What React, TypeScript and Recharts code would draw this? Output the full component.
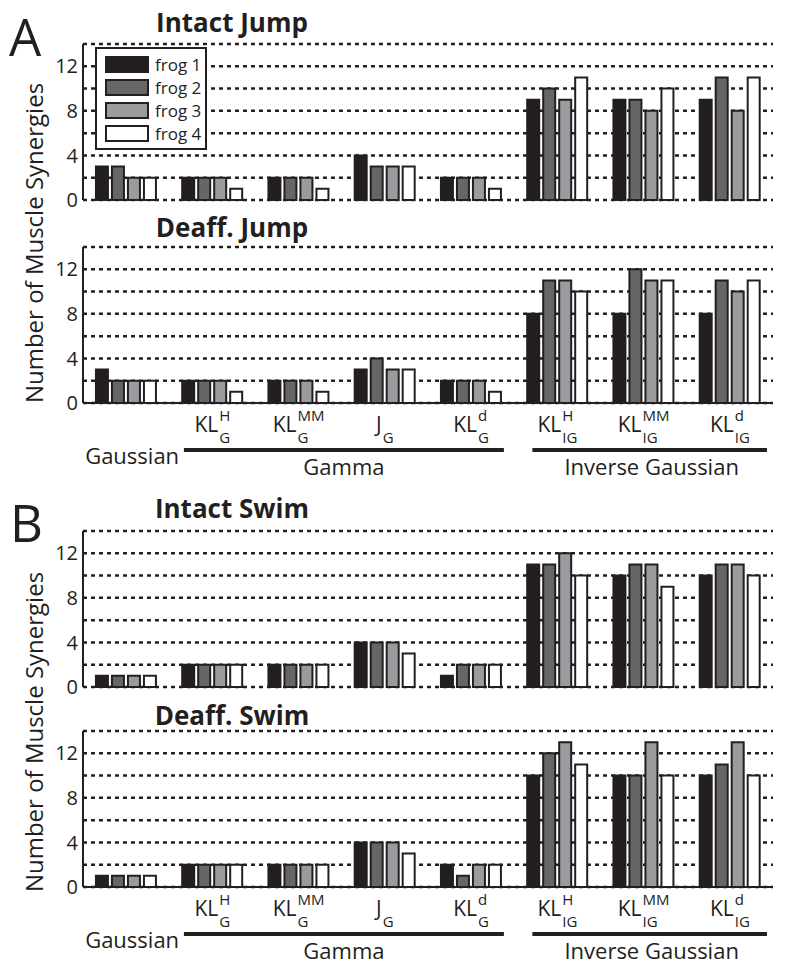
import React from 'react';
import { BarChart, Bar, XAxis, YAxis, CartesianGrid, Legend } from 'recharts';

const categories = ['Gaussian', 'KLH_G', 'KLMM_G', 'J_G', 'KLd_G', 'KLH_IG', 'KLMM_IG', 'KLd_IG'];
const labelMain = ['', 'KL', 'KL', 'J', 'KL', 'KL', 'KL', 'KL'];
const labelSup = ['', 'H', 'MM', '', 'd', 'H', 'MM', 'd'];
const labelSub = ['', 'G', 'G', 'G', 'G', 'IG', 'IG', 'IG'];
const groupNames = ['Gaussian', 'Gamma', 'Inverse Gaussian'];

const frogNames = ['frog 1', 'frog 2', 'frog 3', 'frog 4'];
const frogColors = ['#231f20', '#666666', '#9a9b9e', '#ffffff'];

const yTicks = [0, 2, 4, 6, 8, 10, 12, 14];

// rows = frog 1..4, columns = categories
const intactJump = [
  [3, 2, 2, 4, 2, 9, 9, 9],
  [3, 2, 2, 3, 2, 10, 9, 11],
  [2, 2, 2, 3, 2, 9, 8, 8],
  [2, 1, 1, 3, 1, 11, 10, 11],
];
const deaffJump = [
  [3, 2, 2, 3, 2, 8, 8, 8],
  [2, 2, 2, 4, 2, 11, 12, 11],
  [2, 2, 2, 3, 2, 11, 11, 10],
  [2, 1, 1, 3, 1, 10, 11, 11],
];
const intactSwim = [
  [1, 2, 2, 4, 1, 11, 10, 10],
  [1, 2, 2, 4, 2, 11, 11, 11],
  [1, 2, 2, 4, 2, 12, 11, 11],
  [1, 2, 2, 3, 2, 10, 9, 10],
];
const deaffSwim = [
  [1, 2, 2, 4, 2, 10, 10, 10],
  [1, 2, 2, 4, 1, 12, 10, 11],
  [1, 2, 2, 4, 2, 13, 13, 13],
  [1, 2, 2, 3, 2, 11, 10, 10],
];

const INK = '#231f20';
const FONT = '"Open Sans", sans-serif';
const W = 787;
const Y_AXIS_W = 83;
const RIGHT_M = 14;
const BW = (W - Y_AXIS_W - RIGHT_M) / categories.length;

const toRows = (m: number[][]) =>
  categories.map((c, i) => ({ cat: c, f1: m[0][i], f2: m[1][i], f3: m[2][i], f4: m[3][i] }));

let ctx: CanvasRenderingContext2D | null = null;
function tw(s: string, size: number) {
  if (!s) return 0;
  if (!ctx) ctx = document.createElement('canvas').getContext('2d');
  if (!ctx) return s.length * size * 0.6;
  ctx.font = `${size}px "Open Sans"`;
  return ctx.measureText(s).width;
}

function CategoryTick(props: any) {
  const { x, y, payload } = props;
  const i = categories.indexOf(payload.value);
  const els: any[] = [];
  const MAIN = 21, SCR = 15;
  if (i === 0) {
    els.push(
      <text key="g" x={x + 6} y={y + 61} textAnchor="middle" fontSize={22} fill={INK} fontFamily={FONT}>
        {groupNames[0]}
      </text>
    );
  } else {
    const mw = tw(labelMain[i], MAIN);
    const sw = Math.max(tw(labelSup[i], SCR), tw(labelSub[i], SCR));
    const total = mw + 1 + sw;
    const sx = x - total / 2;
    const scx = sx + mw + 1;
    els.push(
      <text key="m" fill={INK} fontFamily={FONT} fontSize={MAIN}>
        <tspan x={sx} y={y + 29}>{labelMain[i]}</tspan>
        {labelSup[i] ? (
          <tspan x={scx} y={y + 18} style={{ fontSize: SCR }}>{labelSup[i]}</tspan>
        ) : null}
        <tspan x={scx} y={y + 40} style={{ fontSize: SCR }}>{labelSub[i]}</tspan>
      </text>
    );
  }
  if (i === 1) {
    const x1 = x - 0.33 * BW;
    const x2 = x + 3 * BW + 0.38 * BW;
    els.push(<line key="l" x1={x1} x2={x2} y1={y + 47} y2={y + 47} stroke={INK} strokeWidth={4} />);
    els.push(
      <text key="n" x={(x1 + x2) / 2} y={y + 72} textAnchor="middle" fontSize={22} fill={INK} fontFamily={FONT}>
        {groupNames[1]}
      </text>
    );
  }
  if (i === 5) {
    const x1 = x - 0.29 * BW;
    const x2 = x + 2 * BW + 0.43 * BW;
    els.push(<line key="l" x1={x1} x2={x2} y1={y + 47} y2={y + 47} stroke={INK} strokeWidth={4} />);
    els.push(
      <text key="n" x={(x1 + x2) / 2 + 2} y={y + 72} textAnchor="middle" fontSize={22} fill={INK} fontFamily={FONT}>
        {groupNames[2]}
      </text>
    );
  }
  return <g>{els}</g>;
}

function LegendBox(props: any) {
  const payload = props.payload || [];
  return (
    <div
      style={{
        border: `2px solid ${INK}`,
        background: '#fff',
        width: 108,
        height: 95,
        boxSizing: 'content-box',
        paddingTop: 4,
        fontFamily: FONT,
      }}
    >
      {payload.map((p: any, k: number) => (
        <div key={k} style={{ display: 'flex', alignItems: 'center', height: 23, marginLeft: 8 }}>
          <div
            style={{
              width: 40,
              height: 13,
              background: p.color,
              border: `2px solid ${INK}`,
            }}
          />
          <span style={{ marginLeft: 6, fontSize: 17, color: INK, lineHeight: '18px' }}>{p.value}</span>
        </div>
      ))}
    </div>
  );
}

function Panel(props: {
  m: number[][];
  top: number;
  height: number;
  marginTop: number;
  marginBottom: number;
  xHeight: number;
  labels: boolean;
  legend: boolean;
}) {
  const { m, top, height, marginTop, marginBottom, xHeight, labels, legend } = props;
  const data = toRows(m);
  return (
    <div style={{ position: 'absolute', left: 0, top, width: W, height }}>
      <BarChart
        width={W}
        height={height}
        data={data}
        margin={{ top: marginTop, right: RIGHT_M, left: 0, bottom: marginBottom }}
        barCategoryGap="15%"
        barGap={4}
      >
        <CartesianGrid vertical={false} stroke={INK} strokeDasharray="4 4" strokeWidth={2.5} />
        <XAxis
          dataKey="cat"
          interval={0}
          tickLine={false}
          tickSize={0}
          tickMargin={0}
          height={xHeight}
          axisLine={{ stroke: INK, strokeWidth: 2 }}
          tick={labels ? <CategoryTick /> : false}
        />
        <YAxis
          type="number"
          domain={[0, 14]}
          ticks={yTicks}
          interval={0}
          width={Y_AXIS_W}
          tickLine={false}
          tickSize={0}
          tickMargin={5}
          axisLine={{ stroke: INK, strokeWidth: 2 }}
          tick={{ fontSize: 20, fill: INK, fontFamily: FONT }}
          tickFormatter={(v: number) => (v % 4 === 0 && v < 14 ? String(v) : '')}
        />
        {legend && (
          <Legend
            layout="vertical"
            align="center"
            verticalAlign="middle"
            content={<LegendBox />}
            wrapperStyle={{ position: 'absolute', left: 95, top: 47, width: 112 }}
          />
        )}
        {['f1', 'f2', 'f3', 'f4'].map((k, j) => (
          <Bar
            key={k}
            dataKey={k}
            name={frogNames[j]}
            fill={frogColors[j]}
            stroke={INK}
            strokeWidth={2}
            isAnimationActive={false}
          />
        ))}
      </BarChart>
    </div>
  );
}

const titles = [
  { t: 'Intact Jump', y: 32 },
  { t: 'Deaff. Jump', y: 237 },
  { t: 'Intact Swim', y: 518 },
  { t: 'Deaff. Swim', y: 725 },
];

export default function App() {
  return (
    <div
      style={{
        position: 'absolute',
        left: 0,
        top: 0,
        width: W,
        height: 975,
        background: '#fff',
        fontFamily: FONT,
        overflow: 'hidden',
      }}
    >
      <Panel m={intactJump} top={0} height={214} marginTop={44} marginBottom={14} xHeight={0} labels={false} legend={true} />
      <Panel m={deaffJump} top={214} height={272} marginTop={33} marginBottom={0} xHeight={83} labels={true} legend={false} />
      <Panel m={intactSwim} top={486} height={215} marginTop={45} marginBottom={14} xHeight={0} labels={false} legend={false} />
      <Panel m={deaffSwim} top={701} height={274} marginTop={30} marginBottom={0} xHeight={88} labels={true} legend={false} />
      <svg
        width={W}
        height={975}
        style={{ position: 'absolute', left: 0, top: 0, pointerEvents: 'none' }}
      >
        {titles.map((d) => (
          <text key={d.t} x={232} y={d.y} textAnchor="middle" fontSize={26} fontWeight="bold" fill={INK} fontFamily={FONT}>
            {d.t}
          </text>
        ))}
        <text x={9} y={56} fontSize={51} fill={INK} fontFamily={FONT}>A</text>
        <text x={10} y={542} fontSize={51} fill={INK} fontFamily={FONT}>B</text>
        <text x={43} y={243} transform="rotate(-90 43 243)" textAnchor="middle" fontSize={24} fill={INK} fontFamily={FONT}>
          Number of Muscle Synergies
        </text>
        <text x={43} y={732} transform="rotate(-90 43 732)" textAnchor="middle" fontSize={24} fill={INK} fontFamily={FONT}>
          Number of Muscle Synergies
        </text>
      </svg>
    </div>
  );
}
